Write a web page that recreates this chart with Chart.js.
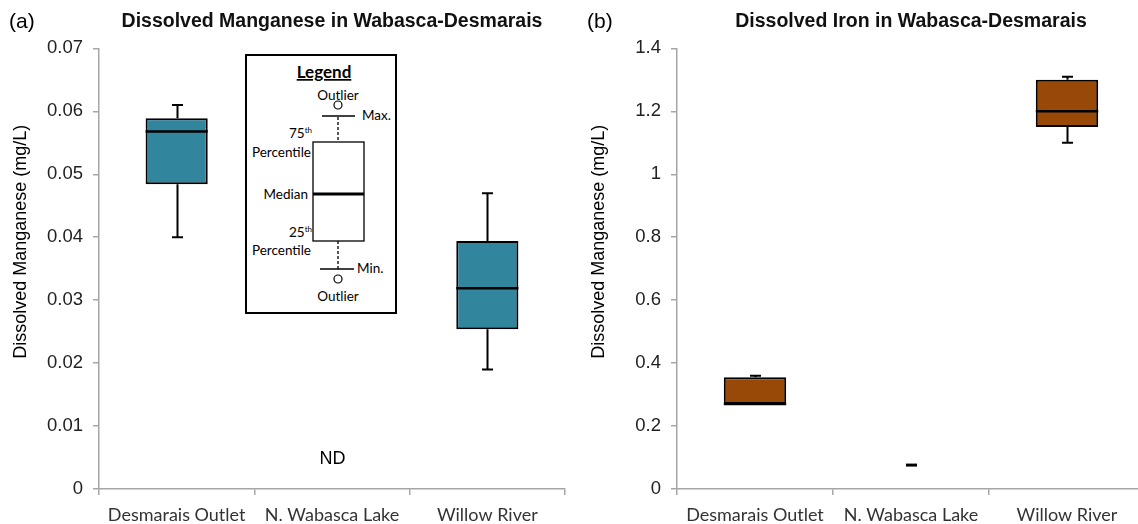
<!DOCTYPE html>
<html><head><meta charset="utf-8">
<script src="https://cdn.jsdelivr.net/npm/chart.js@4.4.1/dist/chart.umd.min.js"></script>
<style>
html,body{margin:0;padding:0;width:1138px;height:524px;overflow:hidden;background:#fff;}
#wa{position:absolute;left:0;top:0;width:580px;height:524px;}
#wb{position:absolute;left:578px;top:0;width:580px;height:524px;}
.tag{position:absolute;font-family:"Liberation Sans",Arial,sans-serif;font-size:21px;color:#000;top:9px;line-height:24px;}
#legend{position:absolute;left:245px;top:54px;width:152px;height:260px;box-sizing:border-box;border:2px solid #000;background:#fff;}
#legend svg{position:absolute;left:-2px;top:-2px;}
</style></head><body>
<div id="wa"><canvas id="ca" width="580" height="524"></canvas></div>
<div id="wb"><canvas id="cb" width="580" height="524"></canvas></div>
<div class="tag" style="left:9px">(a)</div>
<div class="tag" style="left:587px">(b)</div>
<div id="legend">
<svg width="152" height="260" viewBox="0 0 152 260" font-family="Lato, 'Open Sans', sans-serif" font-size="13.5" fill="#000">
  <text x="79" y="24" text-anchor="middle" font-weight="bold" font-size="17" text-decoration="underline">Legend</text>
  <text x="93" y="46" text-anchor="middle">Outlier</text>
  <circle cx="93" cy="51" r="4" fill="#fff" stroke="#000" stroke-width="1.2"/>
  <line x1="77" y1="62" x2="110" y2="62" stroke="#000" stroke-width="1.3"/>
  <text x="117" y="66">Max.</text>
  <line x1="93" y1="63" x2="93" y2="88" stroke="#000" stroke-width="1.3" stroke-dasharray="3,2"/>
  <rect x="68" y="88" width="51" height="99" fill="#fff" stroke="#000" stroke-width="1.3"/>
  <line x1="68" y1="140" x2="119" y2="140" stroke="#000" stroke-width="3"/>
  <line x1="93" y1="187" x2="93" y2="215" stroke="#000" stroke-width="1.3" stroke-dasharray="3,2"/>
  <line x1="75" y1="215" x2="109" y2="215" stroke="#000" stroke-width="1.3"/>
  <text x="112" y="219">Min.</text>
  <circle cx="93" cy="225" r="4" fill="#fff" stroke="#000" stroke-width="1.2"/>
  <text x="93" y="247" text-anchor="middle">Outlier</text>
  <text x="67" y="84" text-anchor="end">75<tspan font-size="8" dy="-5">th</tspan></text>
  <text x="66" y="103" text-anchor="end">Percentile</text>
  <text x="63" y="145" text-anchor="end">Median</text>
  <text x="67" y="183" text-anchor="end">25<tspan font-size="8" dy="-5">th</tspan></text>
  <text x="66" y="201" text-anchor="end">Percentile</text>
</svg>
</div>
<script>
// ---- data ----
const categories = ['Desmarais Outlet', 'N. Wabasca Lake', 'Willow River'];

// Dissolved manganese (mg/L)
const mnMin    = [0.040,  null, 0.019];
const mnQ1     = [0.0484, null, 0.0254];
const mnMedian = [0.0568, null, 0.0319];
const mnQ3     = [0.0589, null, 0.0394];
const mnMax    = [0.061,  null, 0.047];
const mnNotes  = ['', 'ND', ''];

// Dissolved iron (mg/L)
const feMin    = [0.27,  0.076, 1.10];
const feQ1     = [0.27,  0.076, 1.15];
const feMedian = [0.27,  0.076, 1.20];
const feQ3     = [0.355, 0.076, 1.30];
const feMax    = [0.36,  0.076, 1.31];
const feNotes  = ['', '', ''];

const mnAxis = {min: 0, max: 0.07, step: 0.01};
const feAxis = {min: 0, max: 1.4, step: 0.2};

const TEAL = '#31859C';
const BROWN = '#984807';
const AXIS_GREY = '#a6a6a6';

function boxPlugin(stats) {
  return {
    id: 'boxWhiskers',
    afterDatasetsDraw(chart) {
      const ctx = chart.ctx, xs = chart.scales.x, ys = chart.scales.y;
      const meta = chart.getDatasetMeta(0);
      ctx.save();
      ctx.strokeStyle = '#000';
      categories.forEach((c, i) => {
        const cx = Math.round(xs.getPixelForValue(i)) + 0.5;
        if (stats.min[i] != null) {
          const yMin = ys.getPixelForValue(stats.min[i]);
          const yMax = ys.getPixelForValue(stats.max[i]);
          const yQ1 = ys.getPixelForValue(stats.q1[i]);
          const yQ3 = ys.getPixelForValue(stats.q3[i]);
          ctx.lineWidth = 2;
          ctx.beginPath();
          ctx.moveTo(cx, yMax); ctx.lineTo(cx, yQ3);
          ctx.moveTo(cx, yQ1); ctx.lineTo(cx, yMin);
          ctx.moveTo(cx - 5.5, yMax); ctx.lineTo(cx + 5.5, yMax);
          ctx.moveTo(cx - 5.5, yMin); ctx.lineTo(cx + 5.5, yMin);
          ctx.stroke();
          if (stats.min[i] === stats.max[i]) {
            ctx.lineWidth = 3;
            ctx.beginPath();
            ctx.moveTo(cx - 5.5, yMin); ctx.lineTo(cx + 5.5, yMin);
            ctx.stroke();
          }
          if (stats.q3[i] > stats.q1[i]) {
            const el = meta.data[i];
            const half = el.width / 2;
            const yMed = ys.getPixelForValue(stats.med[i]);
            ctx.lineWidth = 2.5;
            ctx.beginPath();
            ctx.moveTo(el.x - half, yMed); ctx.lineTo(el.x + half, yMed);
            ctx.stroke();
          }
        }
        if (stats.notes[i]) {
          ctx.fillStyle = '#000';
          ctx.font = '18px "Liberation Sans", Arial, sans-serif';
          ctx.textAlign = 'center';
          ctx.textBaseline = 'middle';
          ctx.fillText(stats.notes[i], cx, ys.getPixelForValue(0) - 30);
        }
      });
      ctx.restore();
    }
  };
}

function makeChart(id, title, yTitle, color, axis, stats, padRight) {
  const boxes = stats.q1.map((v, i) => (v == null || v === stats.q3[i]) ? null : [v, stats.q3[i]]);
  return new Chart(document.getElementById(id), {
    type: 'bar',
    data: {
      labels: categories,
      datasets: [{
        data: boxes,
        backgroundColor: color,
        borderColor: '#000',
        borderWidth: 2,
        borderSkipped: false,
        barPercentage: 0.4,
        categoryPercentage: 1
      }]
    },
    options: {
      responsive: false,
      animation: false,
      layout: {padding: {left: 0, right: padRight, top: 0, bottom: 0}},
      plugins: {
        legend: {display: false},
        tooltip: {enabled: false},
        title: {
          display: true,
          text: title,
          fullSize: false,
          color: '#111',
          font: {family: '"Liberation Sans", Arial, sans-serif', size: 19.5, weight: 'bold'},
          padding: {top: 10, bottom: 15}
        }
      },
      scales: {
        x: {
          type: 'category',
          offset: true,
          grid: {offset: true, drawOnChartArea: false, drawTicks: true, tickLength: 6, color: AXIS_GREY, lineWidth: 1.5},
          border: {color: AXIS_GREY, width: 1.5},
          ticks: {color: '#333', padding: 9, font: {family: 'Lato, "Open Sans", sans-serif', size: 18}},
          afterFit: s => { s.height = 35; }
        },
        y: {
          min: axis.min, max: axis.max,
          ticks: {stepSize: axis.step, color: '#222', padding: 10,
                  font: {family: '"Liberation Sans", Arial, sans-serif', size: 18.5},
                  callback: v => String(Number(v.toFixed(3)))},
          grid: {drawOnChartArea: false, drawTicks: true, tickLength: 6, color: AXIS_GREY, lineWidth: 1.5},
          border: {color: AXIS_GREY, width: 1.5},
          title: {display: true, text: '\u2003\u2003\u2003' + yTitle, color: '#000',
                  font: {family: '"Liberation Sans", Arial, sans-serif', size: 18},
                  padding: {top: 10, bottom: 0}},
          afterFit: s => { s.width = 99; }
        }
      }
    },
    plugins: [boxPlugin(stats)]
  });
}

makeChart('ca', 'Dissolved Manganese in Wabasca-Desmarais', 'Dissolved Manganese (mg/L)', TEAL, mnAxis,
  {min: mnMin, q1: mnQ1, med: mnMedian, q3: mnQ3, max: mnMax, notes: mnNotes}, 15);
makeChart('cb', 'Dissolved Iron in Wabasca-Desmarais', 'Dissolved Manganese (mg/L)', BROWN, feAxis,
  {min: feMin, q1: feQ1, med: feMedian, q3: feQ3, max: feMax, notes: feNotes}, 13);
</script>
</body></html>
